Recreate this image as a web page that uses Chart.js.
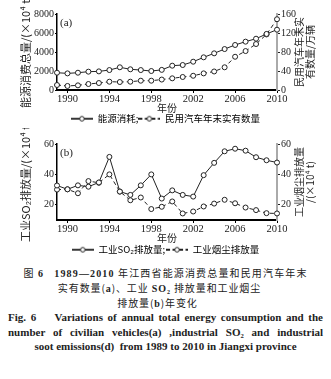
<!DOCTYPE html>
<html>
<head>
<meta charset="utf-8">
<script src="https://cdn.jsdelivr.net/npm/chart.js@4.4.0/dist/chart.umd.min.js"></script>
<style>
  body { margin: 0; background: #fff; width: 331px; height: 379px; overflow: hidden; position: relative; }
  .box { position: absolute; left: 0; width: 331px; height: 128px; }
  #boxA { top: -2px; }
  #boxB { top: 128px; }
  .cap { position: absolute; left: 0; width: 331px; color: #222; white-space: nowrap; }
  .zh { font-family: "Noto Sans CJK SC", sans-serif; font-size: 10px; letter-spacing: 0.9px; text-align: center; line-height: 15px; }
  .zh b, .en { font-family: "Liberation Serif", "DejaVu Serif", serif; font-weight: bold; }
  .en { font-size: 11px; line-height: 14px; }
  .just { left: 8px; width: 315px; text-align: justify; text-align-last: justify; }
</style>
</head>
<body>
<div class="box" id="boxA"><canvas id="chartA"></canvas></div>
<div class="box" id="boxB"><canvas id="chartB"></canvas></div>

<div class="cap zh" style="top:265px;letter-spacing:1.15px">图 <b>6</b>&nbsp;&nbsp; <b>1989—2010</b> 年江西省能源消费总量和民用汽车年末</div>
<div class="cap zh" style="top:280px;left:-6px">实有数量(<b>a</b>)、工业 <b>SO₂</b> 排放量和工业烟尘</div>
<div class="cap zh" style="top:295px;left:-8px">排放量(<b>b</b>)年变化</div>
<div class="cap en just" style="top:310px">Fig. 6&nbsp;&nbsp;&nbsp; Variations of annual total energy consumption and the</div>
<div class="cap en just" style="top:325px">number of civilian vehicles(a) ,industrial SO₂ and industrial</div>
<div class="cap en" style="top:339px;text-align:center">soot emissions(d)&nbsp; from 1989 to 2010 in Jiangxi province</div>

<script>
// 年份与刻度
const years = [1989, 1990, 1991, 1992, 1993, 1994, 1995, 1996, 1997, 1998, 1999,
               2000, 2001, 2002, 2003, 2004, 2005, 2006, 2007, 2008, 2009, 2010];
const tickYears = [1990, 1994, 1998, 2002, 2006, 2010];

// (a) 能源消费总量 (10^4 t) 与民用汽车年末实有数量 (万辆)
const energy = [1820, 1750, 1820, 1930, 1960, 2100, 2390, 2180, 2100, 2000, 2120,
                2560, 2630, 2980, 3440, 3860, 4310, 4740, 5090, 5400, 5900, 6350];
const vehicles = [10.5, 8.5, 9.8, 12.6, 14.7, 17.5, 16.8, 17.5, 19.6, 19.6, 22,
                  24.6, 27.4, 30, 35, 39, 47.8, 70, 82, 96.8, 117, 149];
const energyTicks = [0, 2000, 4000, 6000, 8000];
const vehicleTicks = [0, 40, 80, 120, 160];

// (b) 工业SO2排放量与工业烟尘排放量 (10^4 t)
const so2 = [32.7, 30.2, 32.8, 31.9, 34.7, 51.5, 28.7, 26.5, 32.8, 40, 24.1,
             29.5, 26.5, 25.4, 39.5, 47.6, 55.2, 56.9, 55.6, 51.3, 49.3, 47.8];
const soot = [30, 30.2, 27.6, 35.6, 34.5, 40, 28.7, 23, 24.8, 17.2, 18.7,
              22.2, 14.3, 15.6, 18.9, 20.8, 23.3, 21, 18.2, 16.5, 14.5, 14.3];
const emissionTicks = [20, 40, 60];

const SERIF = '"Liberation Serif", "DejaVu Serif", serif';
const CJK = '"Noto Sans CJK SC", sans-serif';
const INK = '#222';

function pairs(values) {
  return years.map((yr, i) => ({ x: yr, y: values[i] }));
}

// 图例里的小图标：线段中间一个空心圆
function legendIcon(dashed) {
  const c = document.createElement('canvas');
  c.width = 22; c.height = 8;
  const g = c.getContext('2d');
  g.strokeStyle = INK;
  g.lineWidth = 1.8;
  if (dashed) g.setLineDash([4, 2.5]);
  g.beginPath(); g.moveTo(0, 4); g.lineTo(22, 4); g.stroke();
  g.setLineDash([]);
  g.lineWidth = 1;
  g.beginPath(); g.arc(11, 4, 2.3, 0, Math.PI * 2);
  g.fillStyle = '#fff'; g.fill(); g.stroke();
  return c;
}
const icons = [legendIcon(false), legendIcon(true)];

// 面板标签 (a)/(b) 和右侧纵轴标题（竖排，自下而上）
const panelText = {
  id: 'panelText',
  afterDraw(chart, args, opts) {
    const { ctx, chartArea } = chart;
    const right = chart.scales.y1;
    ctx.save();
    ctx.fillStyle = INK;
    ctx.font = '11px ' + SERIF;
    ctx.textBaseline = 'middle';
    ctx.fillText(opts.tag, chartArea.left + 3, chartArea.top + 9);
    ctx.font = '10px ' + CJK;
    ctx.textAlign = 'center';
    const midY = (chartArea.top + chartArea.bottom) / 2;
    opts.rightTitle.forEach((line, i) => {
      ctx.save();
      ctx.translate(right.left + 22 + i * 11.5, midY);
      ctx.rotate(-Math.PI / 2);
      ctx.fillText(line, 0, 0);
      ctx.restore();
    });
    ctx.restore();
  }
};

function fixedTicks(list) {
  return scale => { scale.ticks = list.map(v => ({ value: v })); };
}

function buildChart(id, o) {
  const line = {
    borderColor: INK, borderWidth: 1, tension: 0, clip: false,
    pointRadius: 2.5, pointBorderWidth: 1,
    pointBackgroundColor: '#fff', pointBorderColor: INK
  };
  return new Chart(document.getElementById(id), {
    type: 'line',
    data: {
      datasets: [
        Object.assign({ label: o.labels[0], data: pairs(o.left), yAxisID: 'y' }, line),
        Object.assign({ label: o.labels[1], data: pairs(o.right), yAxisID: 'y1', borderDash: [4, 3] }, line)
      ]
    },
    options: {
      responsive: true,
      maintainAspectRatio: false,
      animation: false,
      layout: { padding: { top: 16, bottom: 0, left: 0, right: 0 } },
      plugins: {
        tooltip: { enabled: false },
        legend: {
          position: 'bottom',
          maxHeight: 12,
          labels: {
            usePointStyle: true,
            pointStyleWidth: 22,
            padding: o.legendPad,
            color: INK,
            font: { family: CJK, size: 9.5 },
            generateLabels: chart => chart.data.datasets.map((ds, i) => ({
              text: ds.label, pointStyle: icons[i], datasetIndex: i,
              fillStyle: 'transparent', strokeStyle: 'transparent', lineWidth: 0, hidden: false
            }))
          }
        },
        panelText: { tag: o.tag, rightTitle: o.rightTitle }
      },
      scales: {
        x: {
          type: 'linear', min: 1989, max: 2010,
          afterBuildTicks: fixedTicks(tickYears),
          afterFit: s => { s.height = 24; },
          border: { color: '#000', width: 2 },
          grid: { drawOnChartArea: false, tickLength: 3, tickColor: '#000' },
          ticks: { padding: 0, maxRotation: 0, color: INK, font: { family: SERIF, size: 10.5 }, callback: v => String(v) },
          title: { display: true, text: '年份', color: INK, font: { family: CJK, size: 10 }, padding: 0 }
        },
        y: {
          position: 'left', min: o.leftRange[0], max: o.leftRange[1],
          afterBuildTicks: fixedTicks(o.leftTicks),
          afterFit: s => { s.width = 57; },
          border: { color: '#000', width: 1.5 },
          grid: { drawOnChartArea: false, tickLength: 2, tickColor: '#000' },
          ticks: { padding: 1, color: INK, font: { family: SERIF, size: 10 }, callback: v => String(v) },
          title: { display: true, text: o.leftTitle, color: INK, font: { family: CJK, size: 11 }, padding: { top: 19, bottom: 0 } }
        },
        y1: {
          position: 'right', min: o.rightRange[0], max: o.rightRange[1],
          afterBuildTicks: fixedTicks(o.rightTicks),
          afterFit: s => { s.width = 54; },
          border: { color: '#aaa', width: 2 },
          grid: { drawOnChartArea: false, tickLength: 3, tickColor: '#222' },
          ticks: { padding: 1, color: INK, font: { family: SERIF, size: 10 }, callback: v => String(v) }
        }
      }
    },
    plugins: [panelText]
  });
}

buildChart('chartA', {
  tag: '(a)',
  labels: ['能源消耗;', '民用汽车年末实有数量'],
  legendPad: 0,
  left: energy, right: vehicles,
  leftRange: [0, 8000], rightRange: [0, 160],
  leftTicks: energyTicks, rightTicks: vehicleTicks,
  leftTitle: '能源消费总量/(×10⁴ t)',
  rightTitle: ['民用汽车年末实', '有数量/万辆']
});

buildChart('chartB', {
  tag: '(b)',
  labels: ['工业SO₂排放量;', '工业烟尘排放量'],
  legendPad: 1,
  left: so2, right: soot,
  leftRange: [10, 60], rightRange: [10, 60],
  leftTicks: emissionTicks, rightTicks: emissionTicks,
  leftTitle: '工业SO₂排放量/(×10⁴ t)',
  rightTitle: ['工业烟尘排放量', '/(×10⁴ t)']
});
</script>
</body>
</html>
